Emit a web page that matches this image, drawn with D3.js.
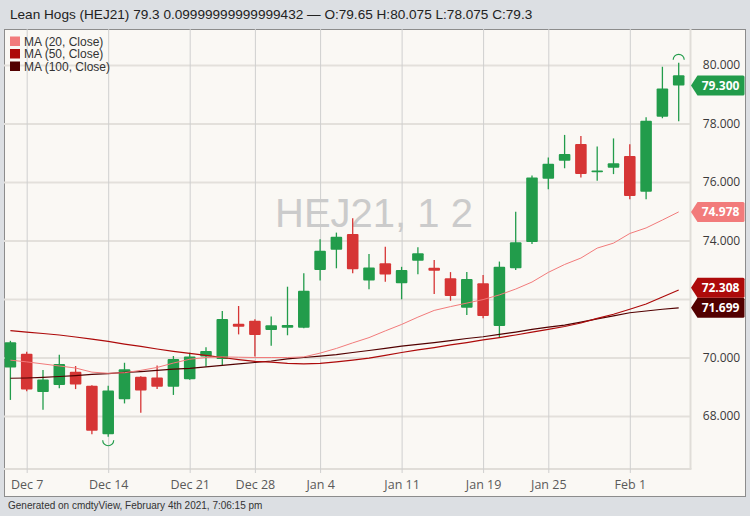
<!DOCTYPE html>
<html><head><meta charset="utf-8">
<script src="https://cdn.jsdelivr.net/npm/d3@7"></script>
<style>
html,body{margin:0;padding:0;background:#dcdfe3;}
svg{display:block;}
</style></head><body>
<svg id="chart" width="750" height="516"></svg>
<script>
const dates = ["2020-12-04","2020-12-07","2020-12-08","2020-12-09","2020-12-10","2020-12-11",
  "2020-12-14","2020-12-15","2020-12-16","2020-12-17","2020-12-18",
  "2020-12-21","2020-12-22","2020-12-23","2020-12-24",
  "2020-12-28","2020-12-29","2020-12-30","2020-12-31",
  "2021-01-04","2021-01-05","2021-01-06","2021-01-07","2021-01-08",
  "2021-01-11","2021-01-12","2021-01-13","2021-01-14","2021-01-15",
  "2021-01-19","2021-01-20","2021-01-21","2021-01-22",
  "2021-01-25","2021-01-26","2021-01-27","2021-01-28","2021-01-29",
  "2021-02-01","2021-02-02","2021-02-03","2021-02-04"];
const opens  = [69.66,70.13,68.82,69.06,69.51,69.03,67.38,68.57,69.34,69.32,69.00,69.26,70.03,69.95,71.15,71.26,70.94,71.02,71.02,72.99,73.68,74.22,72.63,73.22,72.54,73.31,73.07,72.71,71.70,72.54,71.08,73.05,73.95,76.11,76.73,77.30,76.34,76.49,76.89,75.67,78.23,79.65];
const highs  = [70.57,70.20,69.57,70.09,69.71,69.05,69.03,69.82,69.36,69.73,70.05,70.16,70.35,71.59,71.76,71.31,71.40,72.42,72.88,74.04,74.27,74.76,73.54,73.79,73.10,73.77,73.33,72.92,72.92,72.82,73.28,74.98,76.22,76.84,77.61,77.57,77.21,77.49,77.29,78.21,79.94,80.075];
const lows   = [68.55,68.85,68.21,68.95,68.92,67.38,67.29,68.43,68.11,68.92,68.72,69.24,69.69,69.74,70.79,70.03,70.40,70.76,71.00,72.63,73.05,72.88,72.33,72.59,71.99,72.85,72.17,71.94,71.45,71.34,70.70,72.99,73.88,75.75,76.47,76.15,76.04,76.27,75.41,75.41,78.18,78.075];
const closes = [70.52,68.91,69.25,69.78,69.08,67.50,68.87,69.60,68.87,69.00,69.95,70.03,70.22,71.32,71.05,70.77,71.10,71.11,72.28,73.65,74.13,73.02,73.08,72.84,72.99,73.56,72.97,72.10,72.68,71.42,73.10,73.94,76.15,76.62,76.96,76.27,76.39,76.64,75.52,78.09,79.20,79.30];
const ma20  = [69.91,69.85,69.78,69.71,69.64,69.50,69.46,69.48,69.56,69.66,69.81,69.94,70.00,70.02,70.01,70.00,70.00,70.00,70.02,70.15,70.31,70.50,70.68,70.91,71.13,71.38,71.61,71.74,71.86,71.98,72.14,72.34,72.58,72.91,73.18,73.40,73.74,73.91,74.24,74.43,74.70,74.978];
const ma50  = [70.92,70.87,70.82,70.77,70.70,70.63,70.55,70.46,70.38,70.29,70.21,70.14,70.07,70.00,69.93,69.87,69.84,69.80,69.78,69.80,69.85,69.91,69.98,70.07,70.17,70.26,70.34,70.43,70.51,70.60,70.68,70.77,70.87,70.96,71.06,71.18,71.34,71.48,71.65,71.83,72.07,72.308];
const ma100 = [69.29,69.30,69.32,69.35,69.38,69.42,69.45,69.49,69.52,69.56,69.60,69.63,69.68,69.73,69.78,69.83,69.88,69.95,70.00,70.05,70.10,70.17,70.24,70.31,70.39,70.45,70.51,70.58,70.65,70.71,70.79,70.87,70.96,71.04,71.11,71.21,71.32,71.42,71.53,71.59,71.65,71.699];
const tickDates  = ["2020-12-07","2020-12-14","2020-12-21","2020-12-28","2021-01-04","2021-01-11","2021-01-19","2021-01-25","2021-02-01"];
const tickLabels = ["Dec 7","Dec 14","Dec 21","Dec 28","Jan 4","Jan 11","Jan 19","Jan 25","Feb 1"];
const yTicks = [68,70,72,74,76,78,80];
const maNames = ["MA (20, Close)","MA (50, Close)","MA (100, Close)"];
const titleText = "Lean Hogs (HEJ21) 79.3 0.09999999999999432 \u2014 O:79.65 H:80.075 L:78.075 C:79.3";
const watermark = "HEJ21, 1 2";
const footerText = "Generated on cmdtyView, February 4th 2021, 7:06:15 pm";
const prevChange = 0.09999999999999432;

const maColors = ["#f27b7b","#ad0a0a","#520000"];
const UP = "#229c4b", DOWN = "#d63535";

const svg = d3.select("#chart");
const L = 4, R = 690.5, T = 29, B = 469;

// panel
svg.append("rect").attr("x",4.5).attr("y",29.5).attr("width",741).attr("height",467)
  .attr("fill","#faf8f4").attr("stroke","#8c8c8c").attr("stroke-width",1);

const x = d3.scalePoint().domain(dates).range([10.4, 678.7]);
const y = d3.scaleLinear().domain([68,80]).range([416,65]);
const step = x.step();
const bw = step*0.71;

// price tags (positions computed first so hidden axis labels can be skipped)
const tags = [
  {v:closes[closes.length-1], c:UP},
  {v:ma20[ma20.length-1], c:maColors[0]},
  {v:ma50[ma50.length-1], c:maColors[1]},
  {v:ma100[ma100.length-1], c:maColors[2]}
].map(t=>({...t, cy:y(t.v)}));
const H = 20;
tags.sort((a,b)=>b.cy-a.cy);
for (let i=1;i<tags.length;i++){
  if (tags[i-1].cy - tags[i].cy < H) tags[i].cy = tags[i-1].cy - H;
}

// horizontal grid + y labels
const yAxis = d3.axisRight(y).tickValues(yTicks).tickFormat(d3.format(".3f")).tickSize(-(R-L)).tickPadding(0);
const yg = svg.append("g").attr("transform",`translate(${R},0)`).call(yAxis);
yg.select(".domain").remove();
yg.selectAll(".tick line").attr("stroke","#e3e0db").attr("stroke-width",2);
yg.selectAll(".tick text").attr("x",31).attr("text-anchor","middle")
  .attr("font-family","'Open Sans', sans-serif").attr("font-size",12).attr("fill","#3a3a3a");
// labels covered by a price tag are not drawn (as in the reference)
yg.selectAll(".tick text").filter(d=>tags.some(t=>Math.abs(t.cy-y(d))<17)).remove();

// plot borders (right and bottom)
svg.append("line").attr("x1",R).attr("x2",R).attr("y1",T).attr("y2",B).attr("stroke","#e0ddd8").attr("stroke-width",2);
svg.append("line").attr("x1",L).attr("x2",R+1).attr("y1",B).attr("y2",B).attr("stroke","#e0ddd8").attr("stroke-width",2);

// vertical grid + x labels
const xAxis = d3.axisBottom(x).tickValues(tickDates).tickFormat((d,i)=>tickLabels[i]).tickSize(-(473-T)).tickPadding(7);
const xg = svg.append("g").attr("transform","translate(0,473)").call(xAxis);
xg.select(".domain").remove();
xg.selectAll(".tick line").attr("stroke","#cfcfcf").attr("stroke-width",1);
xg.selectAll(".tick text").attr("font-family","'Open Sans', sans-serif").attr("font-size",12.5).attr("fill","#5a5a5a");

// watermark
svg.append("text").attr("x",374).attr("y",227).attr("text-anchor","middle")
  .attr("font-family","'Liberation Sans', Arial, sans-serif").attr("font-size",40)
  .attr("fill","#cbcbcb").text(watermark);

// candles
const bars = dates.map((d,i)=>({d,o:opens[i],h:highs[i],l:lows[i],c:closes[i],
  up: i===dates.length-1 ? prevChange>0 : closes[i]>=opens[i]}));
const cg = svg.append("g");
cg.selectAll("line").data(bars).join("line")
  .attr("x1",b=>x(b.d)).attr("x2",b=>x(b.d)).attr("y1",b=>y(b.h)).attr("y2",b=>y(b.l))
  .attr("stroke",b=>b.up?UP:DOWN).attr("stroke-width",1.3);
cg.selectAll("rect").data(bars).join("rect")
  .attr("x",b=>x(b.d)-bw/2).attr("width",bw)
  .attr("y",b=>y(Math.max(b.o,b.c)))
  .attr("height",b=>Math.max(1.6, Math.abs(y(b.o)-y(b.c))))
  .attr("rx",1)
  .attr("fill",b=>b.up?UP:DOWN);

// high / low markers
const hiIdx = d3.maxIndex(highs), loIdx = d3.minIndex(lows);
{
  const cx = x(dates[hiIdx]), cy = y(highs[hiIdx]) - 3, r = 5.5;
  svg.append("path").attr("d",`M${cx-r},${cy} A${r},${r} 0 0 1 ${cx+r},${cy}`)
    .attr("fill","none").attr("stroke",bars[hiIdx].up?UP:DOWN).attr("stroke-width",1.2);
}
{
  const cx = x(dates[loIdx]), cy = y(lows[loIdx]) + 3.5, r = 5.5;
  svg.append("path").attr("d",`M${cx-r},${cy} A${r},${r} 0 0 0 ${cx+r},${cy}`)
    .attr("fill","none").attr("stroke",bars[loIdx].up?UP:DOWN).attr("stroke-width",1.2);
}

// moving averages
const line = d3.line().x((v,i)=>x(dates[i])).y(v=>y(v));
[ma100, ma50, ma20].forEach((arr,k)=>{
  const ci = 2-k;
  svg.append("path").datum(arr).attr("d",line).attr("fill","none")
    .attr("stroke",maColors[ci]).attr("stroke-width", ci===0?1:1.2);
});

// draw price tags
const tg = svg.append("g");
tags.forEach(t=>{
  const cy=t.cy, h=H/2;
  tg.append("path").attr("d",`M691,${cy} L697.5,${cy-h} L743,${cy-h} Q744.5,${cy-h} 744.5,${cy-h+1.5} L744.5,${cy+h-1.5} Q744.5,${cy+h} 743,${cy+h} L697.5,${cy+h} Z`)
    .attr("fill",t.c);
  tg.append("text").attr("x",720.5).attr("y",cy).attr("dy","0.36em").attr("text-anchor","middle")
    .attr("font-family","'Open Sans', sans-serif").attr("font-weight",700).attr("font-size",12)
    .attr("fill","#ffffff").text(d3.format(".3f")(t.v));
});

// legend
const lg = svg.append("g");
maNames.forEach((n,i)=>{
  const yy = 36.5 + i*12.5;
  lg.append("rect").attr("x",10).attr("y",yy).attr("width",10).attr("height",9.5).attr("fill",maColors[i]);
  lg.append("text").attr("x",24).attr("y",yy+9).attr("font-family","'Liberation Sans', Arial, sans-serif")
    .attr("font-size",12).attr("fill","#333").text(n);
});

// title & footer
svg.append("text").attr("x",10).attr("y",19).attr("font-family","'Liberation Sans', Arial, sans-serif")
  .attr("font-size",13.6).attr("fill","#222").text(titleText);
svg.append("text").attr("x",8).attr("y",509).attr("font-family","'Liberation Sans', Arial, sans-serif")
  .attr("font-size",10).attr("fill","#333").text(footerText);
</script>
</body></html>
